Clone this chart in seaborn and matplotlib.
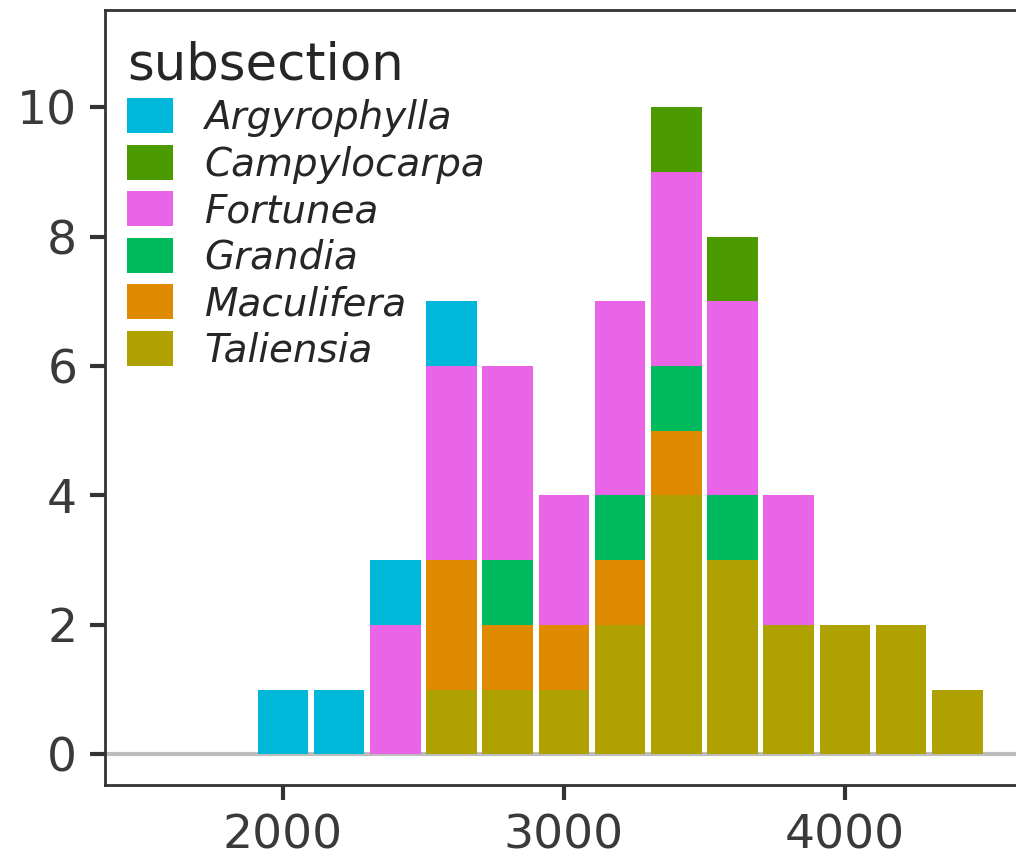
import matplotlib
matplotlib.use("Agg")
import matplotlib.pyplot as plt
from matplotlib.patches import Patch
import seaborn as sns
import pandas as pd

# bin centres of the histogram (width 200)
bin_centres = [2000, 2200, 2400, 2600, 2800, 3000, 3200, 3400, 3600, 3800, 4000, 4200, 4400]

subsections = ["Argyrophylla", "Campylocarpa", "Fortunea", "Grandia", "Maculifera", "Taliensia"]

argyrophylla = [1, 1, 1, 1, 0, 0, 0, 0, 0, 0, 0, 0, 0]
campylocarpa = [0, 0, 0, 0, 0, 0, 0, 1, 1, 0, 0, 0, 0]
fortunea = [0, 0, 2, 3, 3, 2, 3, 3, 3, 2, 0, 0, 0]
grandia = [0, 0, 0, 0, 1, 0, 1, 1, 1, 0, 0, 0, 0]
maculifera = [0, 0, 0, 2, 1, 1, 1, 1, 0, 0, 0, 0, 0]
taliensia = [0, 0, 0, 1, 1, 1, 2, 4, 3, 2, 2, 2, 1]

colors = ["#00B8DA", "#4B9A00", "#EA64E8", "#00BB5E", "#E08A00", "#AFA200"]

counts = [argyrophylla, campylocarpa, fortunea, grandia, maculifera, taliensia]
rows = []
for name, vals in zip(subsections, counts):
    for x, n in zip(bin_centres, vals):
        rows.append({"elevation": x, "n": n, "subsection": name})
df = pd.DataFrame(rows)

sns.set_theme(style="white")
plt.rcParams["font.family"] = ["DejaVu Sans"]

fig = plt.figure(figsize=(10.16, 8.61), dpi=100)
ax = fig.add_axes([0.1034, 0.088, 0.908, 0.9])

palette = dict(zip(subsections, colors))
ax.axhline(0, color="#BDBDBD", lw=3, zorder=0)
# first hue level ends up on top of the stack
sns.histplot(
    data=df, x="elevation", weights="n", hue="subsection", hue_order=subsections,
    multiple="stack", binwidth=200, binrange=(1900, 4500), palette=palette, alpha=1,
    shrink=0.9, edgecolor="none", linewidth=0, legend=False, ax=ax,
)

ax.set_xlim(1367, 4650)
ax.set_ylim(-0.48, 11.5)
ax.set_xticks([2000, 3000, 4000])
ax.set_yticks([0, 2, 4, 6, 8, 10])
ax.set_xlabel("")
ax.set_ylabel("")
ax.tick_params(axis="both", which="both", direction="out", length=11, width=3,
               color="#333333", labelsize=34, labelcolor="#3a3a3a", pad=9,
               bottom=True, left=True)
for s in ax.spines.values():
    s.set_color("#333333")
    s.set_linewidth(2)

handles = [Patch(facecolor=c, edgecolor="none") for c in colors]
leg = ax.legend(
    handles, subsections, title="subsection", loc="upper left",
    bbox_to_anchor=(-0.006, 0.996), frameon=False, fontsize=28,
    title_fontsize=37, handlelength=1.18, handleheight=1.0,
    labelspacing=0.2, handletextpad=0.82, borderaxespad=0.3,
)
leg._legend_box.align = "left"
for t in leg.get_texts():
    t.set_fontstyle("italic")

fig.savefig("out.png", dpi=100)
